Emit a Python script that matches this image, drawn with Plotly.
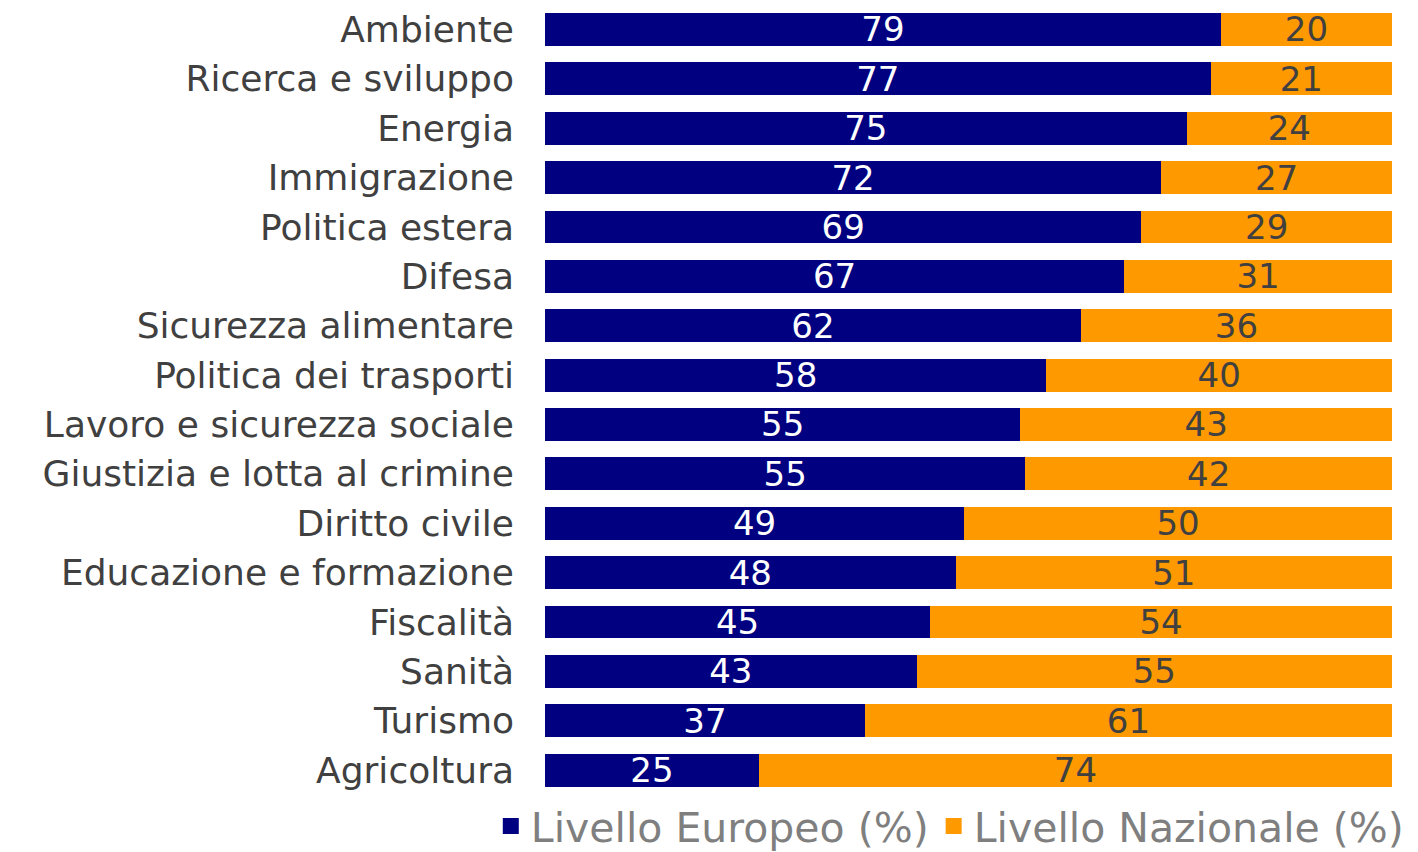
import plotly.graph_objects as go

# data (top to bottom as in the chart)
categories = [
    "Ambiente", "Ricerca e sviluppo", "Energia", "Immigrazione",
    "Politica estera", "Difesa", "Sicurezza alimentare",
    "Politica dei trasporti", "Lavoro e sicurezza sociale",
    "Giustizia e lotta al crimine", "Diritto civile",
    "Educazione e formazione", "Fiscalità", "Sanità", "Turismo",
    "Agricoltura",
]
europeo = [79, 77, 75, 72, 69, 67, 62, 58, 55, 55, 49, 48, 45, 43, 37, 25]
nazionale = [20, 21, 24, 27, 29, 31, 36, 40, 43, 42, 50, 51, 54, 55, 61, 74]
series_names = ["Livello Europeo (%)", "Livello Nazionale (%)"]

FONT = "DejaVu Sans"
BLUE = "#000080"
ORANGE = "#FF9900"
TXT = "#404040"

fig = go.Figure()

for vals, name, color, tcolor in [
    (europeo, series_names[0], BLUE, "white"),
    (nazionale, series_names[1], ORANGE, TXT),
]:
    fig.add_trace(go.Bar(
        y=categories, x=vals,
        orientation="h",
        name=name,
        showlegend=False,
        marker=dict(color=color, line_width=0),
        text=vals,
        textposition="inside",
        insidetextanchor="middle",
        textfont=dict(color=tcolor, size=34, family=FONT),
    ))
    # legend entry with a bigger square swatch
    fig.add_trace(go.Scatter(
        x=[None], y=[None],
        mode="markers",
        name=name,
        marker=dict(symbol="square", size=18, color=color),
    ))

fig.update_layout(
    barmode="stack",
    barnorm="percent",
    bargap=0.334,
    width=1418, height=852,
    margin=dict(l=537, r=34, t=0, b=68),
    plot_bgcolor="white",
    paper_bgcolor="white",
    font=dict(family=FONT, color=TXT),
    uniformtext=dict(minsize=34, mode="show"),
    showlegend=True,
    legend=dict(
        orientation="h",
        traceorder="normal",
        x=-0.064, xanchor="left",
        y=-0.005, yanchor="top",
        font=dict(size=41, color="#7f7f7f", family=FONT),
        itemclick=False,
        itemsizing="trace",
    ),
    hovermode=False,
)

fig.update_xaxes(visible=False, range=[0, 100], fixedrange=True)
fig.update_yaxes(
    range=[15.382, -0.434],
    showgrid=False, showline=False, zeroline=False,
    ticks="",
    ticklabelstandoff=30,
    tickfont=dict(size=36, color=TXT, family=FONT),
    fixedrange=True,
)

fig.write_html("out.html")
